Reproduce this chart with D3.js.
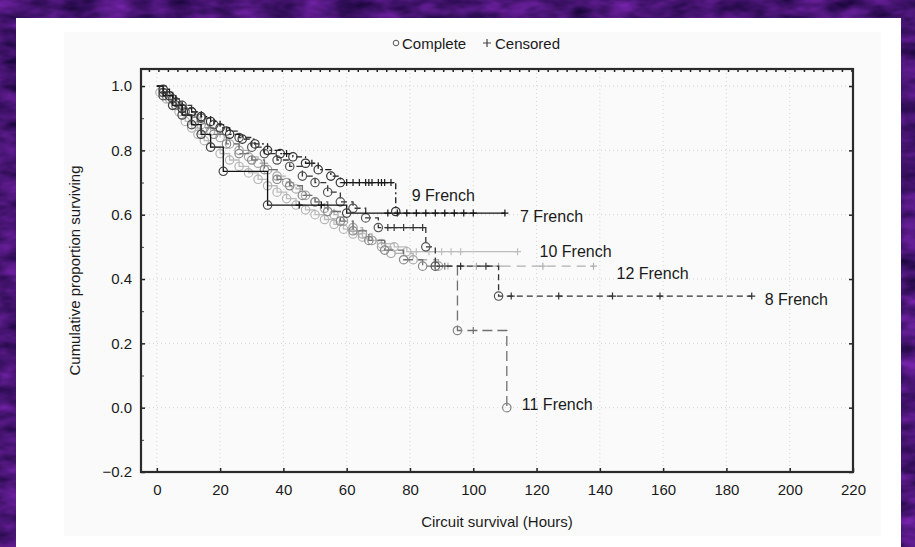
<!DOCTYPE html>
<html>
<head>
<meta charset="utf-8">
<script src="https://cdn.jsdelivr.net/npm/d3@7"></script>
<style>
body { margin: 0; background: #45107a; }
text { font-family: Arial, "Liberation Sans", sans-serif; fill: #1a1a1a; }
</style>
</head>
<body>
<svg width="915" height="547"></svg>
<script>
// Kaplan-Meier steps: [hours, proportion after the event]
var events7 = [[2,.97],[5,.94],[8,.91],[11,.88],[14,.85],[17,.81],[21,.735],[35,.63],[60,.605]];
var censored7 = [45,52,73,76,79,82,85,88,91,94,97,100,110];

var events8 = [[2,.98],[5,.96],[8,.94],[11,.92],[14,.90],[18,.88],[22,.86],[26,.84],[30,.81],[34,.79],
  [38,.77],[42,.75],[46,.72],[50,.70],[54,.67],[58,.64],[62,.62],[66,.59],[70,.56],[85,.50],[88,.44],[108,.347]];
var censored8 = [73,75,78,81,84,96,104,112,127,144,159,188];

var events9 = [[2,.99],[4,.97],[6,.95],[8,.93],[11,.92],[14,.905],[17,.89],[20,.87],[23,.85],[27,.835],
  [31,.82],[35,.80],[39,.79],[43,.78],[47,.76],[51,.74],[55,.72],[58,.70],[75.5,.61]];
var censored9 = [41,49,60,62,64,66,67,68,70,71,72,74];

var events10 = [[1,.98],[3,.96],[5,.94],[7,.92],[9,.89],[11,.87],[13,.85],[15,.83],[17,.81],[20,.79],
  [23,.77],[26,.75],[29,.73],[32,.71],[35,.69],[38,.67],[41,.65],[44,.63],[47,.615],[50,.60],[53,.585],
  [56,.57],[59,.555],[62,.54],[65,.53],[68,.52],[71,.51],[75,.50],[79,.485]];
var censored10 = [82,86,90,93,96,114];

var events11 = [[3,.97],[6,.94],[9,.92],[12,.89],[15,.87],[18,.85],[22,.82],[26,.79],[30,.77],[34,.74],
  [38,.71],[42,.69],[46,.66],[50,.64],[54,.61],[58,.58],[62,.55],[67,.52],[72,.49],[78,.46],[84,.44],
  [95,.24],[110.6,0]];
var censored11 = [88,91,100];

var events12 = [[2,.98],[4,.96],[6,.94],[9,.92],[12,.90],[14,.88],[17,.86],[20,.84],[23,.82],[26,.80],
  [29,.78],[32,.76],[35,.74],[38,.72],[41,.70],[44,.68],[47,.66],[50,.64],[53,.62],[56,.60],[59,.58],
  [62,.56],[65,.54],[68,.52],[71,.50],[74,.48],[81,.46],[89,.44]];
var censored12 = [92,96,101,108,122,138];

var groupNames = ["7 French","8 French","9 French","10 French","11 French","12 French"];
var xTicks = [0,20,40,60,80,100,120,140,160,180,200,220];
var yTicks = [-0.2,0,0.2,0.4,0.6,0.8,1.0];
var legendItems = ["Complete","Censored"];

var groups = [
  {name: groupNames[0], events: events7, censored: censored7},
  {name: groupNames[1], events: events8, censored: censored8},
  {name: groupNames[2], events: events9, censored: censored9},
  {name: groupNames[3], events: events10, censored: censored10},
  {name: groupNames[4], events: events11, censored: censored11},
  {name: groupNames[5], events: events12, censored: censored12}
];

// look of each curve, and where its name sits relative to the curve end
var styles = {
  "7 French":  {line: "#111", mark: "#444", dash: null,        dx: 15, dy: 3},
  "8 French":  {line: "#333", mark: "#555", dash: "6,4",       dx: 13, dy: 3},
  "9 French":  {line: "#1a1a1a", mark: "#333", dash: "6,3,2,3", dx: 16, dy: -16},
  "10 French": {line: "#bdbdbd", mark: "#b5b5b5", dash: null,  dx: 22, dy: 0},
  "11 French": {line: "#707070", mark: "#888", dash: "10,5",   dx: 15, dy: -3},
  "12 French": {line: "#b0b0b0", mark: "#a5a5a5", dash: "9,6", dx: 23, dy: 7}
};

var svg = d3.select("svg");

// purple textured backdrop
var defs = svg.append("defs");
var f = defs.append("filter").attr("id", "tex").attr("x", 0).attr("y", 0).attr("width", 1).attr("height", 1)
  .attr("color-interpolation-filters", "sRGB");
f.append("feTurbulence").attr("type", "fractalNoise").attr("baseFrequency", "0.03 0.07")
  .attr("numOctaves", 3).attr("seed", 4);
f.append("feColorMatrix").attr("type", "matrix")
  .attr("values", "0.5 0 0 0 0.03  0.16 0 0 0 0  0.6 0 0 0 0.15  0 0 0 0 1");

svg.append("rect").attr("width", 915).attr("height", 547).attr("fill", "#45107a");
svg.append("rect").attr("width", 915).attr("height", 547).attr("filter", "url(#tex)");
svg.append("rect").attr("x", 16).attr("y", 18).attr("width", 885).attr("height", 529).attr("fill", "#fff");
svg.append("rect").attr("x", 64).attr("y", 32).attr("width", 817).attr("height", 504).attr("fill", "#fafafa");

var x = d3.scaleLinear().domain([-5, 220]).range([141, 853]);
var y = d3.scaleLinear().domain([-0.2, 1.053]).range([472, 69]);

// dotted grid
svg.append("g").selectAll("line").data(xTicks).enter().append("line")
  .attr("x1", function(d) { return x(d); }).attr("x2", function(d) { return x(d); })
  .attr("y1", y.range()[1]).attr("y2", y.range()[0])
  .attr("stroke", "#d4d4d4").attr("stroke-dasharray", "1,3");
svg.append("g").selectAll("line").data(yTicks).enter().append("line")
  .attr("y1", function(d) { return y(d); }).attr("y2", function(d) { return y(d); })
  .attr("x1", x.range()[0]).attr("x2", x.range()[1])
  .attr("stroke", "#d4d4d4").attr("stroke-dasharray", "1,3");

// axes, ticks pointing inward
var xAxis = d3.axisBottom(x).tickValues(xTicks).tickSizeInner(-4).tickSizeOuter(0).tickPadding(12);
var yAxis = d3.axisLeft(y).tickValues(yTicks).tickFormat(d3.format(".1f")).tickSizeInner(-4).tickSizeOuter(0).tickPadding(9);

var gx = svg.append("g").attr("transform", "translate(0," + y.range()[0] + ")").call(xAxis);
var gy = svg.append("g").attr("transform", "translate(" + x.range()[0] + ",0)").call(yAxis);
[gx, gy].forEach(function(g) {
  g.select(".domain").remove();
  g.selectAll("line").attr("stroke", "#222").attr("stroke-width", 1.5);
  g.selectAll("text").attr("font-size", 15).attr("fill", "#1a1a1a")
    .style("font-family", "Arial, 'Liberation Sans', sans-serif");
});

// minor y ticks and the other two sides
svg.append("g").call(d3.axisLeft(y).tickValues(d3.range(-0.1, 1.0, 0.2)).tickSizeInner(-3).tickFormat(""))
  .attr("transform", "translate(" + x.range()[0] + ",0)")
  .call(function(g) { g.select(".domain").remove(); g.selectAll("line").attr("stroke", "#444"); });
svg.append("g").call(d3.axisRight(y).tickValues(yTicks).tickSizeInner(-4).tickFormat(""))
  .attr("transform", "translate(" + x.range()[1] + ",0)")
  .call(function(g) { g.select(".domain").remove(); g.selectAll("line").attr("stroke", "#222").attr("stroke-width", 1.5); });
svg.append("g").call(d3.axisTop(x).tickValues(d3.range(-2.5, 220, 3)).tickSizeInner(-3).tickFormat(""))
  .attr("transform", "translate(0," + y.range()[1] + ")")
  .call(function(g) { g.select(".domain").remove(); g.selectAll("line").attr("stroke", "#222").attr("stroke-width", 1.5); });

svg.append("rect")
  .attr("x", x.range()[0]).attr("y", y.range()[1])
  .attr("width", x.range()[1] - x.range()[0]).attr("height", y.range()[0] - y.range()[1])
  .attr("fill", "none").attr("stroke", "#2a2a2a").attr("stroke-width", 2.2);

// curves
var line = d3.line()
  .x(function(d) { return x(d[0]); })
  .y(function(d) { return y(d[1]); })
  .curve(d3.curveStepAfter);

function levelAt(events, t) {
  var s = 1;
  events.forEach(function(e) { if (e[0] <= t) s = e[1]; });
  return s;
}

var drawOrder = ["10 French","12 French","11 French","8 French","7 French","9 French"];

drawOrder.forEach(function(name) {
  var gr = groups.filter(function(g) { return g.name == name; })[0];
  var st = styles[name];
  var last = d3.max(gr.events.concat(gr.censored.map(function(c) { return [c]; })), function(d) { return d[0]; });
  var pts = [[0, 1]].concat(gr.events);
  var endLevel = levelAt(gr.events, last);
  pts.push([last, endLevel]);

  var g = svg.append("g");
  g.append("path").datum(pts)
    .attr("d", line)
    .attr("fill", "none")
    .attr("stroke", st.line)
    .attr("stroke-width", 1.3)
    .attr("stroke-dasharray", st.dash);

  g.selectAll("circle").data(gr.events).enter().append("circle")
    .attr("cx", function(d) { return x(d[0]); })
    .attr("cy", function(d) { return y(d[1]); })
    .attr("r", 4.2)
    .attr("fill", "none")
    .attr("stroke", st.mark)
    .attr("stroke-width", 1.2);

  g.selectAll("path.cens").data(gr.censored).enter().append("path")
    .attr("class", "cens")
    .attr("d", function(c) {
      var cx = x(c), cy = y(levelAt(gr.events, c));
      return "M" + (cx - 3.5) + "," + cy + "H" + (cx + 3.5) + "M" + cx + "," + (cy - 3.5) + "V" + (cy + 3.5);
    })
    .attr("stroke", st.line)
    .attr("stroke-width", 1.2);

  g.append("text")
    .attr("x", x(last) + st.dx)
    .attr("y", y(endLevel) + st.dy)
    .attr("dy", "0.35em")
    .attr("font-size", 16)
    .text(name);
});

// axis titles
svg.append("text")
  .attr("x", (x.range()[0] + x.range()[1]) / 2).attr("y", 527)
  .attr("text-anchor", "middle").attr("font-size", 15)
  .text("Circuit survival (Hours)");
svg.append("text")
  .attr("transform", "translate(80," + (y.range()[0] + y.range()[1]) / 2 + ") rotate(-90)")
  .attr("text-anchor", "middle").attr("font-size", 15)
  .text("Cumulative proportion surviving");

// legend
var lg = svg.append("g").attr("transform", "translate(396,44)");
lg.append("circle").attr("cx", 0).attr("cy", -1).attr("r", 2.8).attr("fill", "none").attr("stroke", "#555");
lg.append("text").attr("x", 6).attr("dy", "0.35em").attr("font-size", 15).text(legendItems[0]);
lg.append("path").attr("d", "M87,-1H95M91,-5V3").attr("stroke", "#444").attr("stroke-width", 1.2);
lg.append("text").attr("x", 99).attr("dy", "0.35em").attr("font-size", 15).text(legendItems[1]);
</script>
</body>
</html>
